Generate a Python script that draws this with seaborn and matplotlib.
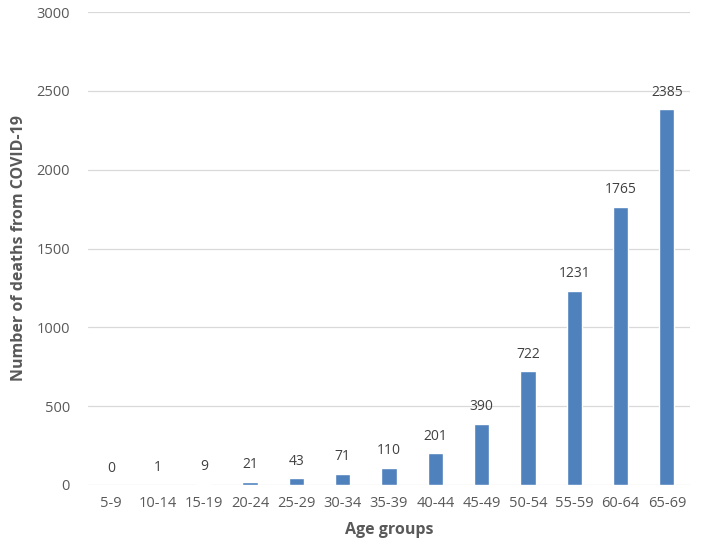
import matplotlib
matplotlib.use("Agg")
import matplotlib.pyplot as plt
import seaborn as sns
import pandas as pd

age_groups = ["5-9", "10-14", "15-19", "20-24", "25-29", "30-34", "35-39",
              "40-44", "45-49", "50-54", "55-59", "60-64", "65-69"]
deaths = [0, 1, 9, 21, 43, 71, 110, 201, 390, 722, 1231, 1765, 2385]
y_ticks = [0, 500, 1000, 1500, 2000, 2500, 3000]

sns.set_theme(style="white")
plt.rcParams['font.family'] = ['Open Sans', 'DejaVu Sans']

df = pd.DataFrame({"age": age_groups, "deaths": deaths})

fig = plt.figure(figsize=(7.01, 5.48), dpi=100)
ax = fig.add_axes([88/701, 1-485/548, (690-88)/701, (485-12)/548])

sns.barplot(data=df, x="age", y="deaths", color="#4F81BD", width=0.33,
            saturation=1, ax=ax, zorder=3)

for i, v in enumerate(deaths):
    ax.text(i, v + 60, str(v), ha="center", va="bottom", fontsize=10, color="#404040")

ax.set_ylim(0, 3000)
ax.set_yticks(y_ticks)
ax.set_xlim(-0.5, len(age_groups) - 0.5)
ax.yaxis.grid(True, color="#D9D9D9", linewidth=0.9, zorder=0)
ax.set_axisbelow(True)
for s in ax.spines.values():
    s.set_visible(False)
ax.tick_params(axis="both", length=0, labelsize=10.5, labelcolor="#595959")
ax.tick_params(axis="y", pad=13)
ax.tick_params(axis="x", pad=8)
ax.set_xlabel("Age groups", fontsize=11.5, fontweight="bold", color="#595959", labelpad=8)
ax.set_ylabel("Number of deaths from COVID-19", fontsize=11.5, fontweight="bold",
              color="#595959", labelpad=7)

fig.savefig("out.png", dpi=100)
